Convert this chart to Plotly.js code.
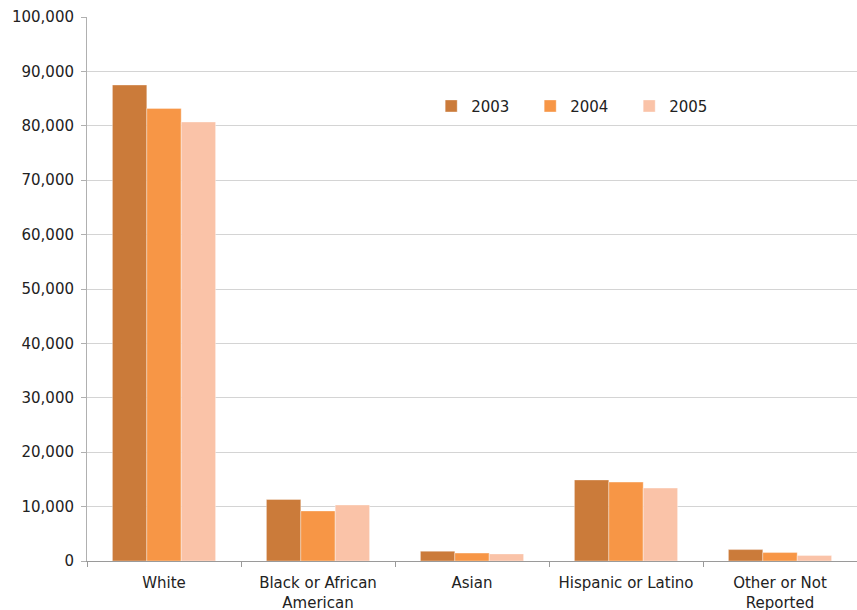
<!DOCTYPE html>
<html>
<head>
<meta charset="utf-8">
<script src="https://cdn.plot.ly/plotly-3.0.1.min.js"></script>
<style>html,body{margin:0;padding:0;background:#fff}#chart{width:857px;height:610px}</style>
</head>
<body>
<div id="chart"></div>
<script>
var categories = ["White", "Black or African<br>American", "Asian", "Hispanic or Latino", "Other or Not<br>Reported"];
var values2003 = [87500, 11300, 1800, 14900, 2100];
var values2004 = [83200, 9200, 1450, 14500, 1550];
var values2005 = [80700, 10300, 1300, 13400, 1000];
var seriesNames = ["2003", "2004", "2005"];
var colors = ["#CB7B3A", "#F79646", "#FAC3A8"];
var tickVals = [0, 10000, 20000, 30000, 40000, 50000, 60000, 70000, 80000, 90000, 100000];

var data = [values2003, values2004, values2005].map(function(v, i) {
  return {
    type: "bar",
    name: seriesNames[i],
    x: categories,
    y: v,
    marker: {color: colors[i], line: {color: "rgba(255,255,255,0.35)", width: 1}},
    hoverinfo: "x+y+name"
  };
});

var layout = {
  width: 857, height: 610,
  margin: {l: 87, r: 0, t: 17, b: 49, autoexpand: false},
  paper_bgcolor: "#fff", plot_bgcolor: "#fff",
  font: {family: "DejaVu Sans, Verdana, sans-serif", size: 15, color: "#222"},
  barmode: "group",
  bargap: 0.33,
  bargroupgap: 0,
  showlegend: true,
  legend: {
    orientation: "h",
    x: 0.447, y: 0.836, xanchor: "left", yanchor: "middle",
    entrywidth: 54, entrywidthmode: "pixels",
    itemwidth: 30,
    font: {size: 15, color: "#222"},
    bgcolor: "rgba(0,0,0,0)",
    traceorder: "normal"
  },
  xaxis: {
    type: "category",
    showline: true, linecolor: "#9a9a9a", linewidth: 1,
    ticks: "outside", tickson: "boundaries", ticklen: 5, tickcolor: "#9a9a9a",
    ticklabelstandoff: 8,
    showgrid: false,
    tickfont: {size: 15, color: "#222"},
    automargin: false
  },
  yaxis: {
    range: [0, 100000],
    tickvals: tickVals,
    tickformat: ",d",
    showline: true, linecolor: "#b0b0b0", linewidth: 1,
    ticks: "outside", ticklen: 5, tickcolor: "#b0b0b0",
    ticklabelstandoff: 4,
    showgrid: true, gridcolor: "#d4d4d4", gridwidth: 1,
    zeroline: false,
    tickfont: {size: 15, color: "#222"},
    automargin: false
  }
};

Plotly.newPlot("chart", data, layout, {displayModeBar: false, staticPlot: true});
</script>
</body>
</html>
